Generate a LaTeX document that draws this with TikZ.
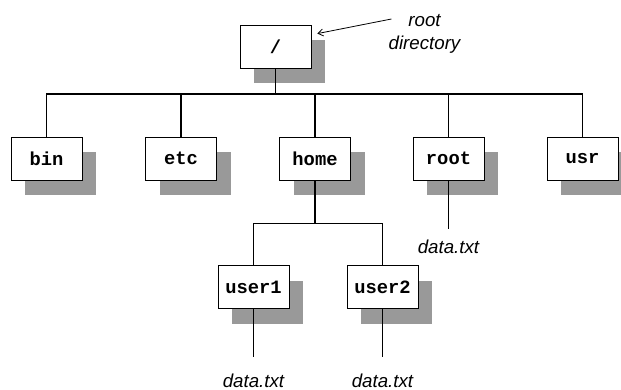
\documentclass[tikz,border=0pt]{standalone}
\usepackage{fontspec}
\setmainfont{Liberation Sans}
\setmonofont{Liberation Mono}
\usetikzlibrary{arrows.meta, positioning, shadows}
\definecolor{shadegray}{HTML}{999999}

\begin{document}
\begin{tikzpicture}[
  x=1pt, y=-1pt,
  dirbox/.style={
    rectangle, draw=black, line width=0.8pt, fill=white,
    minimum width=71pt, minimum height=43pt,
    font=\ttfamily\bfseries\fontsize{18.8}{22}\selectfont,
    general shadow={draw=none, fill=shadegray,
      shadow xshift=14pt, shadow yshift=-15pt}
  },
  file/.style={
    inner sep=0pt, font=\itshape\fontsize{18.7}{22}\selectfont
  },
  link/.style={line width=1.6pt, black},
  pointer/.style={-{Straight Barb[length=5pt, width=7pt]}, line width=0.8pt}
]
  \useasboundingbox (0,0) rectangle (621,390);

  \node[dirbox] (root) at (275.5,46.5) {/};

  \node[dirbox] (bin) at (46.5,158.5) {bin};
  \node[dirbox] (etc) at (181,158.5) {etc};
  \node[dirbox] (home) at (315,158.5) {home};
  \node[dirbox] (rootdir) at (448.5,158.5) {root};
  \node[dirbox] (usr) at (582.5,158.5) {usr};

  \node[dirbox] (user1) at (253.5,287) {user1};
  \node[dirbox] (user2) at (382.5,287) {user2};

  \node[file, below=59.4pt of rootdir] (rootfile) {data.txt};
  \node[file, below=64.4pt of user1] (file1) {data.txt};
  \node[file, below=64.4pt of user2] (file2) {data.txt};

  \node[file, align=center, font=\itshape\fontsize{18.7}{23}\selectfont,
    anchor=north] (note) at (424.5,14) {root\\directory};

  % top level
  \coordinate (bus) at (0,94);
  \draw[link] (root.south) -- (root.south |- bus);
  \draw[link] (bin.north) -- (bin.north |- bus) -- (usr.north |- bus) -- (usr.north);
  \foreach \n in {etc, home, rootdir}
    \draw[link] (\n.north) -- (\n.north |- bus);

  % home
  \coordinate (homebus) at (0,223.5);
  \draw[link] (home.south) -- (home.south |- homebus);
  \draw[link] (user1.north) -- (user1.north |- homebus) -- (user2.north |- homebus) -- (user2.north);

  % files
  \draw[link, shorten >=10.5pt] (rootdir) -- (rootfile);
  \draw[link, shorten >=16pt] (user1) -- (file1);
  \draw[link, shorten >=16pt] (user2) -- (file2);

  \draw[pointer] ([shift={(3pt,-5pt)}]note.north west) -- ([shift={(6pt,-9pt)}]root.north east);
\end{tikzpicture}
\end{document}
